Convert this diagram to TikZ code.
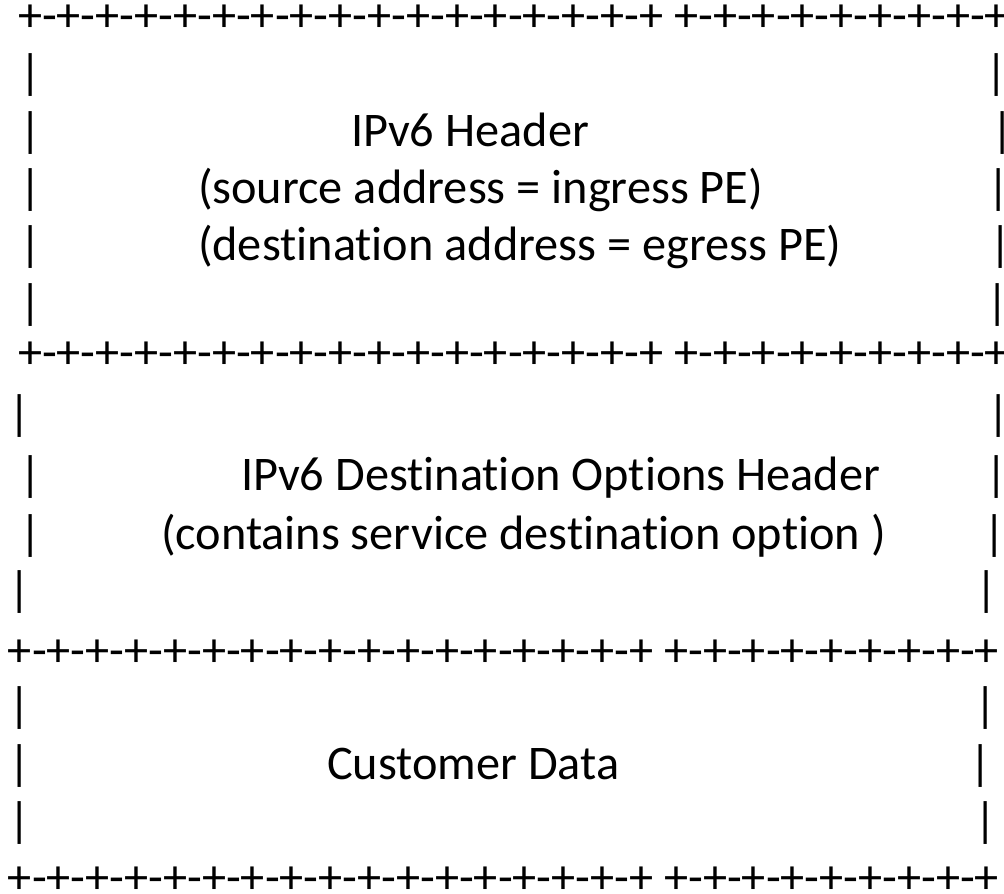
\documentclass[tikz,border=0pt]{standalone}
\usepackage{fontspec}
\setmainfont{Carlito}[Ligatures=NoCommon]
\newfontfamily\asciifont{Carlito}[Ligatures=NoCommon]
\begin{document}
\begin{tikzpicture}[x=1pt,y=-1pt,
  glyphs/.style={font=\asciifont\fontsize{48.3pt}{58pt}\selectfont, inner sep=0pt, outer sep=0pt},
  rule/.style={glyphs, anchor=base west},
  label/.style={glyphs, anchor=base west},
  bar/.style={glyphs, anchor=base}]
\useasboundingbox[fill=white] (0,0) rectangle (1004,894);

% horizontal rules between the header blocks
\node[rule] (r1) at (18,31)  {+-+-+-+-+-+-+-+-+-+-+-+-+-+-+-+-+ +-+-+-+-+-+-+-+-+};
\node[rule] (r2) at (18,368) {+-+-+-+-+-+-+-+-+-+-+-+-+-+-+-+-+ +-+-+-+-+-+-+-+-+};
\node[rule] (r3) at (8,666)  {+-+-+-+-+-+-+-+-+-+-+-+-+-+-+-+-+ +-+-+-+-+-+-+-+-+};
\node[rule] (r4) at (8,893)  {+-+-+-+-+-+-+-+-+-+-+-+-+-+-+-+-+ +-+-+-+-+-+-+-+-+};

% IPv6 header block
\node[bar] (a1l) at (31,88)  {|}; \node[bar] (a1r) at (997,88)  {|};
\node[bar] (a2l) at (31,146) {|}; \node[bar] (a2r) at (1003,146) {|};
\node[bar] (a3l) at (31,203) {|}; \node[bar] (a3r) at (999,203) {|};
\node[bar] (a4l) at (31,260) {|}; \node[bar] (a4r) at (1001,260) {|};
\node[bar] (a5l) at (31,318) {|}; \node[bar] (a5r) at (998,318) {|};
\node[label] (ipv6) at (351,146) {IPv6 Header};
\node[label] (src)  at (198,203) {(source address = ingress PE)};
\node[label] (dst)  at (198,260) {(destination address = egress PE)};

% destination options block
\node[bar] (b1l) at (20,429) {|}; \node[bar] (b1r) at (999,429) {|};
\node[bar] (b2l) at (31,490) {|}; \node[bar] (b2r) at (997,490) {|};
\node[bar] (b3l) at (31,549) {|}; \node[bar] (b3r) at (995,549) {|};
\node[bar] (b4l) at (20,605) {|}; \node[bar] (b4r) at (987,605) {|};
\node[label] (dopt) at (241,490) {IPv6 Destination Options Header};
\node[label] (cont) at (161,549) {(contains service destination option )};

% payload block
\node[bar] (c1l) at (20,721) {|}; \node[bar] (c1r) at (986,721) {|};
\node[bar] (c2l) at (20,779) {|}; \node[bar] (c2r) at (981,779) {|};
\node[bar] (c3l) at (20,836) {|}; \node[bar] (c3r) at (986,836) {|};
\node[label] (data) at (327,779) {Customer Data};
\end{tikzpicture}
\end{document}
